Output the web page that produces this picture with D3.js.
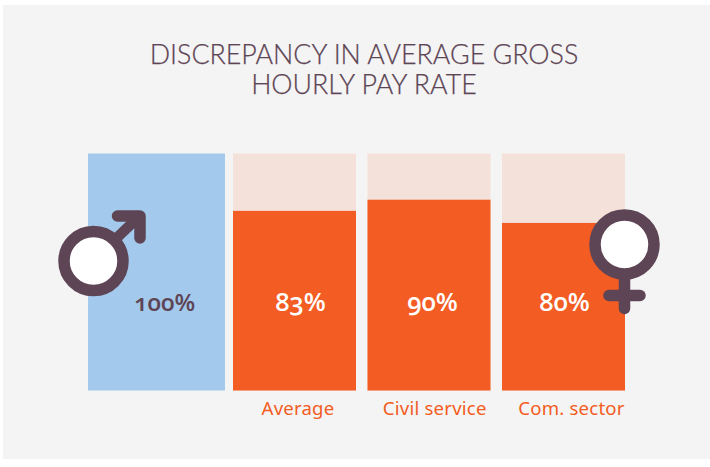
<!DOCTYPE html>
<html>
<head>
<meta charset="utf-8">
<script src="https://cdn.jsdelivr.net/npm/d3@7"></script>
<style>
html,body{margin:0;padding:0;background:#fff;}
svg{display:block;}
text{font-family:"Open Sans",sans-serif;}
</style>
</head>
<body>
<svg id="c" width="710" height="467"></svg>
<script>
// Data
const titleLines = ["DISCREPANCY IN AVERAGE GROSS", "HOURLY PAY RATE"];
const referenceCategory = ["Men"];
const referenceHeight = [100];
const referenceLabel = ["100%"];
const categories = ["Average", "Civil service", "Com. sector"];
// Printed labels, and the fill height as actually drawn (on the 0-100 bar scale)
const valueLabels = ["83%", "90%", "80%"];
const drawnHeights = [75.8, 80.5, 70.7];

const svg = d3.select("#c");
const W = 710, H = 467;
const ink = "#5e4555", orange = "#f35c23", pale = "#f3e1da", blue = "#a3c9ec";

svg.append("rect").attr("x",3).attr("y",5).attr("width",W-3).attr("height",H-5-8).attr("fill","#f4f4f4");

const y = d3.scaleLinear().domain([0,100]).range([390.5,153.5]);
const xRef = d3.scaleBand().domain(referenceCategory).range([88,225]);
const x = d3.scaleBand().domain(categories).range([233,625]).paddingInner(0.0855);
const xValueLabel = d3.scalePoint().domain(categories).range([300.5,564.5]);
const xCatLabel = d3.scalePoint().domain(categories).range([298,571.5]);

// title
svg.append("g").selectAll("text").data(titleLines).join("text")
  .attr("x",364).attr("y",(d,i)=>64+i*30)
  .attr("text-anchor","middle")
  .style("font-family","Lato, sans-serif").style("font-weight",300)
  .attr("font-size",26.8).attr("stroke",ink).attr("stroke-width",0.25).attr("fill",ink).text(d=>d);

// reference bar
svg.append("g").selectAll("rect").data(referenceCategory).join("rect")
  .attr("x",d=>xRef(d)).attr("width",xRef.bandwidth())
  .attr("y",(d,i)=>y(referenceHeight[i])).attr("height",(d,i)=>y(0)-y(referenceHeight[i]))
  .attr("fill",blue);

// background bars
svg.append("g").selectAll("rect").data(categories).join("rect")
  .attr("x",d=>x(d)).attr("width",x.bandwidth())
  .attr("y",y(100)).attr("height",y(0)-y(100)).attr("fill",pale);

// filled bars
svg.append("g").selectAll("rect").data(categories).join("rect")
  .attr("x",d=>x(d)).attr("width",x.bandwidth())
  .attr("y",(d,i)=>y(drawnHeights[i])).attr("height",(d,i)=>y(0)-y(drawnHeights[i]))
  .attr("fill",orange);

// male symbol
const male = svg.append("g").attr("transform","translate(93.5,261)");
male.append("line").attr("x1",20).attr("y1",-20).attr("x2",44).attr("y2",-43)
  .attr("stroke",ink).attr("stroke-width",10.5);
male.append("path").attr("d","M 24 -45 L 46.5 -45 L 46.5 -23")
  .attr("fill","none").attr("stroke",ink).attr("stroke-width",11.5)
  .attr("stroke-linecap","round").attr("stroke-linejoin","round");
male.append("circle").attr("r",29.5).attr("fill","#fff").attr("stroke",ink).attr("stroke-width",11.5);

// female symbol
const female = svg.append("g").attr("transform","translate(624.5,244.5)");
female.append("line").attr("x1",0).attr("y1",30).attr("x2",0).attr("y2",64)
  .attr("stroke",ink).attr("stroke-width",11.5).attr("stroke-linecap","round");
female.append("line").attr("x1",-15.5).attr("y1",51).attr("x2",15.5).attr("y2",51)
  .attr("stroke",ink).attr("stroke-width",11.5).attr("stroke-linecap","round");
female.append("circle").attr("r",29.5).attr("fill","#fff").attr("stroke",ink).attr("stroke-width",11.5);

// value labels
const pct = svg.append("g").style("font-feature-settings",'"onum" 1').attr("font-weight",600);
pct.selectAll("text.ref").data(referenceLabel).join("text").attr("class","ref")
  .attr("x",(d,i)=>xRef(referenceCategory[i])+xRef.bandwidth()*0.56).attr("y",311)
  .attr("text-anchor","middle").attr("font-size",24).attr("fill",ink).text(d=>d);
pct.selectAll("text.val").data(valueLabels).join("text").attr("class","val")
  .attr("x",(d,i)=>xValueLabel(categories[i])).attr("y",311)
  .attr("text-anchor","middle").attr("font-size",25.5).attr("fill","#fff").text(d=>d);

// category labels
svg.append("g").selectAll("text").data(categories).join("text")
  .attr("x",d=>xCatLabel(d)).attr("y",415)
  .attr("text-anchor","middle").attr("font-size",18.6).attr("letter-spacing",0.2).attr("fill",orange)
  .style("font-family","'Noto Sans', sans-serif").text(d=>d);
</script>
</body>
</html>
